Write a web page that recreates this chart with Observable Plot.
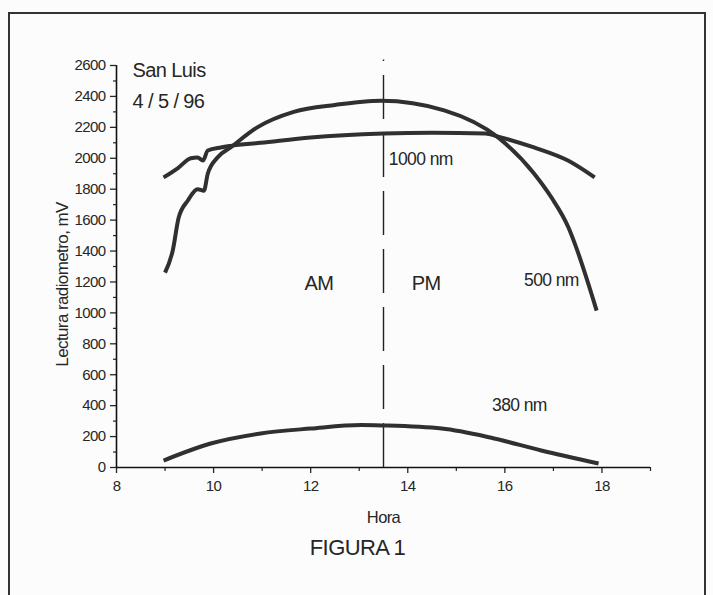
<!DOCTYPE html>
<html>
<head>
<meta charset="utf-8">
<script src="https://cdn.jsdelivr.net/npm/d3@7"></script>
<script src="https://cdn.jsdelivr.net/npm/@observablehq/plot@0.6"></script>
<style>
  html, body { margin: 0; padding: 0; background: #fcfcfc; }
  body { width: 713px; height: 595px; position: relative; overflow: hidden; }
  #frame { position: absolute; left: 8px; top: 12px; width: 698px; height: 600px; border: 2px solid #333; border-bottom: none; box-sizing: border-box; }
  #chart { position: absolute; left: 0; top: 0; }
  #chart svg text { letter-spacing: -0.6px; }
</style>
</head>
<body>
<div id="frame"></div>
<div id="chart"></div>
<script>
// ---- data ----
const hours500 = [9.0, 9.16, 9.28, 9.47, 9.67, 9.8, 9.88, 10.08, 10.35, 10.9, 11.65, 12.5, 13.45, 14.75, 15.86, 16.6, 16.96, 17.31, 17.45, 17.89];
const values500 = [1260, 1405, 1615, 1727, 1800, 1790, 1900, 2005, 2070, 2200, 2300, 2345, 2372, 2310, 2135, 1902, 1746, 1552, 1440, 1015];

const hours1000 = [8.97, 9.26, 9.53, 9.67, 9.78, 9.88, 10.15, 10.35, 10.97, 12.0, 13.5, 14.5, 15.6, 15.86, 16.6, 17.3, 17.85];
const values1000 = [1876, 1935, 2000, 2005, 1985, 2050, 2070, 2080, 2100, 2135, 2160, 2165, 2160, 2140, 2070, 1985, 1876];

const hours380 = [8.97, 9.94, 10.97, 12.0, 13.04, 13.5, 14.7, 15.7, 16.75, 17.93];
const values380 = [45, 155, 220, 252, 275, 272, 252, 194, 110, 26];

const noonHour = 13.5;

const xTicks = [8, 10, 12, 14, 16, 18];
const xMinor = [9, 11, 13, 15, 17, 19];
const yTicks = [0, 200, 400, 600, 800, 1000, 1200, 1400, 1600, 1800, 2000, 2200, 2400, 2600];
const yMinor = [100, 300, 500, 700, 900, 1100, 1300, 1500, 1700, 1900, 2100, 2300, 2500];

const startLabels = [
  {h: 8.33, v: 2565, text: "San Luis", size: 20},
  {h: 8.33, v: 2365, text: "4 / 5 / 96", size: 20},
  {h: 13.61, v: 1995, text: "1000 nm", size: 17.5}
];
const middleLabels = [
  {h: 12.17, v: 1190, text: "AM", size: 20},
  {h: 14.38, v: 1190, text: "PM", size: 20},
  {h: 16.96, v: 1210, text: "500 nm", size: 17.5},
  {h: 16.3, v: 400, text: "380 nm", size: 17.5}
];

const toRows = (hs, vs) => hs.map((h, i) => ({h, v: vs[i]}));
const s500 = toRows(hours500, values500);
const s1000 = toRows(hours1000, values1000);
const s380 = toRows(hours380, values380);

const ink = "#262626";
const lineStyle = {x: "h", y: "v", curve: "monotone-x", stroke: "#303030", strokeWidth: 4, strokeLinecap: "butt", strokeLinejoin: "round"};

const chart = Plot.plot({
  width: 713,
  height: 595,
  marginLeft: 116,
  marginRight: 63,
  marginTop: 65,
  marginBottom: 128,
  style: {background: "transparent", fontFamily: "'Liberation Sans', Arial, sans-serif", color: ink, overflow: "visible"},
  x: {domain: [8, 19]},
  y: {domain: [0, 2600]},
  marks: [
    Plot.axisY({ticks: yTicks, tickSize: 6, tickPadding: 5, fontSize: 15, label: null, tickFormat: d => String(d), strokeWidth: 1.3}),
    Plot.axisY({ticks: yMinor, tickSize: 3, label: null, tickFormat: () => "", strokeWidth: 1.2}),
    Plot.axisX({ticks: xTicks, tickSize: 6, tickPadding: 7, fontSize: 15, label: null, tickFormat: d => String(d), strokeWidth: 1.3}),
    Plot.axisX({ticks: xMinor, tickSize: 4, label: null, tickFormat: () => "", strokeWidth: 1.2}),
    Plot.ruleY([0], {stroke: "#111", strokeWidth: 1.6}),
    Plot.ruleX([8], {stroke: "#111", strokeWidth: 1.6}),
    Plot.ruleX([noonHour], {y1: 0, y2: 2635, stroke: "#222", strokeWidth: 1.4, strokeDasharray: "44,14"}),
    Plot.line(s380, lineStyle),
    Plot.line(s1000, lineStyle),
    Plot.line(s500, lineStyle),
    Plot.text(startLabels, {x: "h", y: "v", text: "text", textAnchor: "start", fontSize: "size", fill: ink}),
    Plot.text(middleLabels, {x: "h", y: "v", text: "text", textAnchor: "middle", fontSize: "size", fill: ink}),
    Plot.text(["Lectura radiometro, mV"], {frameAnchor: "left", textAnchor: "middle", dx: -54, dy: 18, rotate: -90, fontSize: 17, fill: ink}),
    Plot.text(["Hora"], {frameAnchor: "bottom", dy: 50, fontSize: 16.5, fill: ink, lineAnchor: "middle"}),
    Plot.text(["FIGURA 1"], {frameAnchor: "bottom", dx: -26, dy: 80, fontSize: 22, fill: ink, lineAnchor: "middle"})
  ]
});
document.getElementById("chart").appendChild(chart);
</script>
</body>
</html>
